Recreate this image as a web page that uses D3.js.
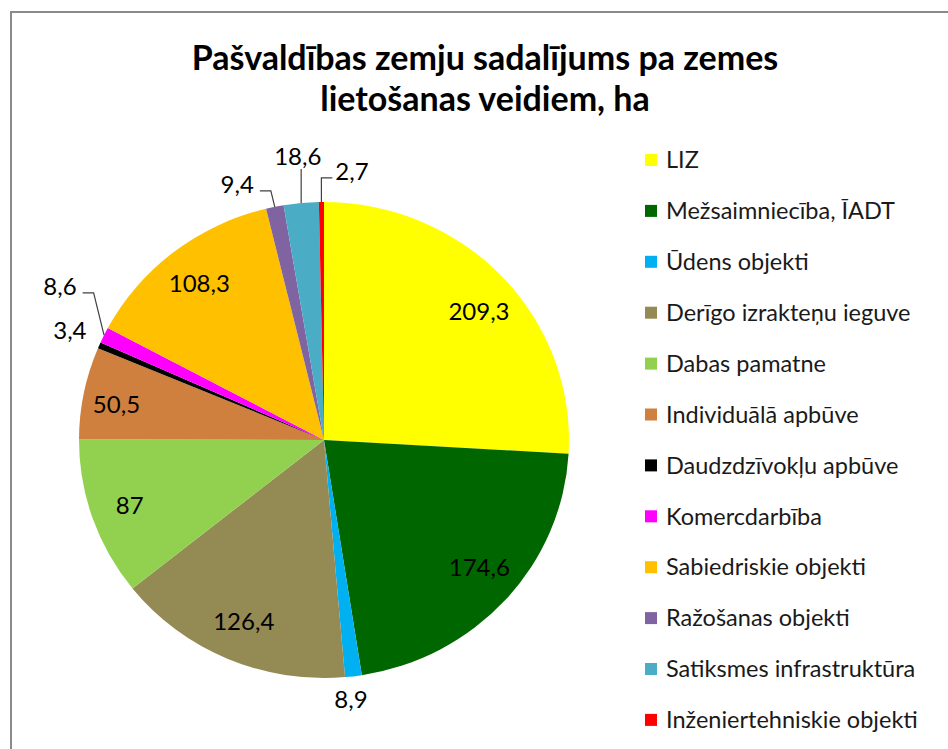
<!DOCTYPE html>
<html>
<head>
<meta charset="utf-8">
<script src="https://cdn.jsdelivr.net/npm/d3@7"></script>
<style>
  body { margin: 0; background: #fff; }
  svg { display: block; font-family: Lato, "Liberation Sans", sans-serif; }
</style>
</head>
<body>
<div id="chart"></div>
<script>
// chart data
const categories = [
  "LIZ",
  "Mežsaimniecība, ĪADT",
  "Ūdens objekti",
  "Derīgo izrakteņu ieguve",
  "Dabas pamatne",
  "Individuālā apbūve",
  "Daudzdzīvokļu apbūve",
  "Komercdarbība",
  "Sabiedriskie objekti",
  "Ražošanas objekti",
  "Satiksmes infrastruktūra",
  "Inženiertehniskie objekti"
];
const values = [209.3, 174.6, 8.9, 126.4, 87, 50.5, 3.4, 8.6, 108.3, 9.4, 18.6, 2.7];
const colors = ["#FFFF00", "#006600", "#00B0F0", "#948A54", "#92D050", "#D0803E",
                "#000000", "#FF00FF", "#FFC000", "#8064A2", "#4BACC6", "#FF0000"];
const titleLines = ["Pašvaldības zemju sadalījums pa zemes", "lietošanas veidiem, ha"];

// label placement: angle nudge (deg) and distance as share of radius
const labelShift = [3, -2, 1.15, 0, 0, -1.5, 0.5, 4.7, 0, -6.7, 0.2, 6.4];
const labelDist = [0.83, 0.83, 1.098, 0.83, 0.84, 0.86, 1.135, 1.255, 0.83, 1.129, 1.194, 1.132];
const leaderType = ["none", "none", "none", "none", "none", "none", "none", "elbow", "none", "elbow", "vertical", "elbow"];

class PieChart {
  constructor(cats, vals) {
    this.cats = cats;
    this.vals = vals;
  }

  draw() {
    //positional parameters
    let svgWidth = 948;
    let svgHeight = 749;
    let cx = 324;
    let cy = 440;
    let radius = 238;
    let sx = 245 / 238; // picture is slightly wider than tall
    let legendX = 645;
    let legendY = 160;
    let legendStep = 50.9;

    let svg = d3.select("#chart")
      .append("svg")
      .attr("width", svgWidth)
      .attr("height", svgHeight);

    //chart frame
    svg.append("rect")
      .attr("x", 11)
      .attr("y", 12)
      .attr("width", svgWidth + 20)
      .attr("height", svgHeight + 20)
      .attr("fill", "#fff")
      .attr("stroke", "#8a8a8a")
      .attr("stroke-width", 2);

    //title
    svg.append("g")
      .selectAll("text")
      .data(titleLines)
      .join("text")
      .attr("x", 485)
      .attr("y", (d, i) => 70 + i * 41)
      .attr("text-anchor", "middle")
      .attr("font-size", 34)
      .attr("font-weight", "bold")
      .attr("fill", "#000")
      .text(d => d);

    //pie layout
    let pie = d3.pie().sort(null).value(d => d);
    let arcs = pie(this.vals);
    let arc = d3.arc().innerRadius(0).outerRadius(radius);

    svg.append("g")
      .attr("transform", `translate(${cx},${cy}) scale(${sx},1)`)
      .selectAll("path")
      .data(arcs)
      .join("path")
      .attr("d", arc)
      .attr("fill", (d, i) => colors[i]);

    //polar helper in the stretched frame
    let polar = (angle, dist) => [cx + sx * dist * Math.sin(angle), cy - dist * Math.cos(angle)];

    //data labels
    let labels = svg.append("g");
    arcs.forEach((a, i) => {
      let mid = (a.startAngle + a.endAngle) / 2;
      let ang = mid + labelShift[i] * Math.PI / 180;
      let p = polar(ang, radius * labelDist[i]);
      let txt = labels.append("text")
        .attr("x", p[0])
        .attr("y", p[1])
        .attr("dy", "0.35em")
        .attr("text-anchor", "middle")
        .attr("font-size", 24)
        .attr("fill", "#000")
        .text(String(values[i]).replace(".", ","));

      let w = txt.node().getComputedTextLength();
      let edge = polar(mid, radius);
      if (leaderType[i] === "elbow") {
        let pts;
        if (p[0] < edge[0]) {
          let sx0 = p[0] + w / 2 + 6;
          pts = [[sx0, p[1] + 6], [sx0 + 11, p[1] + 6], edge];
        } else {
          let sx0 = p[0] - w / 2 - 3;
          pts = [[sx0, p[1] + 6], [sx0 - 11, p[1] + 6], edge];
        }
        labels.append("path")
          .attr("d", d3.line()(pts))
          .attr("fill", "none")
          .attr("stroke", "#404040")
          .attr("stroke-width", 1.2);
      } else if (leaderType[i] === "vertical") {
        labels.append("path")
          .attr("d", d3.line()([[edge[0], p[1] + 12], edge]))
          .attr("fill", "none")
          .attr("stroke", "#404040")
          .attr("stroke-width", 1.2);
      }
    });

    //legend
    let legend = svg.append("g")
      .selectAll("g")
      .data(this.cats)
      .join("g")
      .attr("transform", (d, i) => `translate(${legendX},${legendY + i * legendStep})`);

    legend.append("rect")
      .attr("x", 0)
      .attr("y", -6)
      .attr("width", 12)
      .attr("height", 12)
      .attr("fill", (d, i) => colors[i]);

    legend.append("text")
      .attr("x", 21)
      .attr("y", 0)
      .attr("dy", "0.35em")
      .attr("font-size", 23.5)
      .attr("fill", "#1a1a1a")
      .text(d => d);
  }
}

let chart = new PieChart(categories, values);
chart.draw();
</script>
</body>
</html>
